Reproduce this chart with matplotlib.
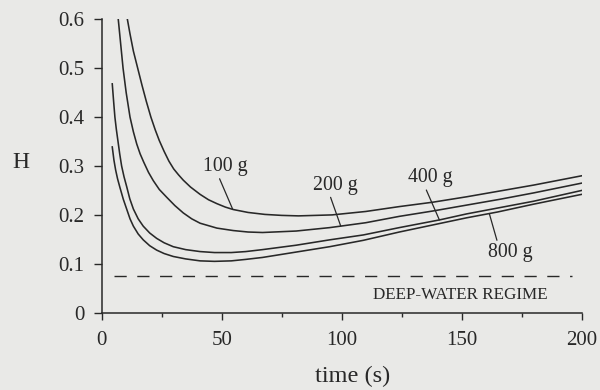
import numpy as np
import matplotlib
matplotlib.use('Agg')
import matplotlib.pyplot as plt
from matplotlib.ticker import MultipleLocator

# values: time (s) against H
t_100 = [10.7, 11.8, 13.2, 15.0, 16.8, 18.6, 20.5, 22.3, 24.0, 26.0, 28.0, 30.0, 32.0, 34.0,
         37.0, 41.0, 44.5, 48.0, 51.5, 54.8, 61.0, 68.0, 75.0, 82.0, 96.0, 110.0, 124.0,
         138.0, 152.0, 166.0, 180.0, 200.0]
H_100 = [0.600, 0.570, 0.535, 0.500, 0.465, 0.432, 0.400, 0.374, 0.352, 0.330, 0.310, 0.294,
         0.282, 0.271, 0.257, 0.242, 0.231, 0.223, 0.216, 0.211, 0.205, 0.201, 0.199, 0.198,
         0.200, 0.207, 0.217, 0.226, 0.237, 0.249, 0.261, 0.280]

t_200 = [6.9, 8.0, 8.9, 10.2, 11.8, 13.2, 14.6, 16.0, 17.5, 19.5, 21.5, 24.0, 27.1, 30.5,
         34.0, 37.5, 41.0, 48.0, 54.8, 61.0, 67.0, 81.0, 95.0, 110.0, 124.0, 138.0, 152.0,
         166.0, 180.0, 200.0]
H_200 = [0.600, 0.545, 0.500, 0.450, 0.400, 0.370, 0.345, 0.325, 0.308, 0.287, 0.270, 0.252,
         0.236, 0.219, 0.204, 0.192, 0.183, 0.173, 0.168, 0.165, 0.164, 0.167, 0.174, 0.184,
         0.197, 0.208, 0.220, 0.232, 0.245, 0.265]

t_400 = [4.4, 5.0, 5.5, 6.1, 6.8, 7.5, 8.3, 9.3, 10.4, 11.7, 13.2, 15.2, 17.3, 20.0, 22.9,
         26.0, 29.8, 35.0, 41.0, 47.0, 54.0, 60.0, 67.0, 81.0, 95.0, 109.0, 124.0, 141.0,
         152.0, 166.0, 180.0, 200.0]
H_400 = [0.468, 0.430, 0.400, 0.375, 0.350, 0.325, 0.300, 0.278, 0.258, 0.233, 0.212, 0.192,
         0.177, 0.163, 0.152, 0.143, 0.135, 0.129, 0.125, 0.123, 0.123, 0.125, 0.129, 0.138,
         0.149, 0.159, 0.174, 0.190, 0.202, 0.215, 0.228, 0.250]

t_800 = [4.4, 5.1, 5.8, 6.6, 7.6, 9.0, 10.4, 11.8, 13.2, 15.2, 17.3, 20.0, 22.9, 26.0,
         29.8, 35.0, 41.0, 47.0, 54.0, 60.0, 67.0, 81.0, 95.0, 109.0, 124.0, 152.0, 165.0,
         180.0, 200.0]
H_800 = [0.339, 0.312, 0.292, 0.274, 0.256, 0.232, 0.212, 0.192, 0.177, 0.161, 0.149, 0.137,
         0.128, 0.121, 0.115, 0.110, 0.106, 0.105, 0.106, 0.109, 0.113, 0.124, 0.135, 0.148,
         0.165, 0.194, 0.206, 0.222, 0.242]

curve_labels = ['100 g', '200 g', '400 g', '800 g']
deep_water_H = 0.075
deep_water_t = [5, 196]

plt.rcParams['font.family'] = ['Liberation Serif', 'DejaVu Serif']
ink = '#282828'
paper = '#e9e9e7'

fig = plt.figure(figsize=(6, 3.9), dpi=100, facecolor=paper)
ax = fig.add_axes([0.1695, 0.1982, 0.8, 0.7523])
ax.set_facecolor(paper)

curves = [(t_100, H_100), (t_200, H_200), (t_400, H_400), (t_800, H_800)]
for t, H in curves:
    ax.plot(t, H, color=ink, lw=1.15, solid_joinstyle='round')

ax.hlines(deep_water_H, deep_water_t[0], deep_water_t[1], color=ink, lw=1.0,
          linestyles=(0, (8.8, 7.6)))
ax.text(149.6, 0.036, 'DEEP-WATER REGIME', ha='center', va='center',
        fontsize=12.3, color=ink)

# labels with leader lines: text centre, time where the leader meets the curve
label_pos = [(51.6, 0.299), (97.2, 0.261), (136.8, 0.276), (170.4, 0.123)]
leader_at = [54.6, 99.6, 140.7, 161.5]
rel = [(0.34, 0.0), (0.38, 0.0), (0.39, 0.0), (0.21, 1.0)]
for lab, (t, H), pos, tl, rp in zip(curve_labels, curves, label_pos, leader_at, rel):
    ax.annotate(lab, xy=(tl, np.interp(tl, t, H)), xytext=pos,
                ha='center', va='center', fontsize=14.3, color=ink,
                arrowprops=dict(arrowstyle='-', color=ink, lw=0.9,
                                relpos=rp, shrinkA=0, shrinkB=0))

ax.set_xlim(0, 200)
ax.set_ylim(0, 0.6)
ax.xaxis.set_major_locator(MultipleLocator(50))
ax.xaxis.set_minor_locator(MultipleLocator(25))
ax.set_yticks(np.arange(0, 0.61, 0.1))
ax.set_yticklabels(['0', '0.1', '0.2', '0.3', '0.4', '0.5', '0.6'])

for s in ['top', 'right']:
    ax.spines[s].set_visible(False)
for s in ['left', 'bottom']:
    ax.spines[s].set_color(ink)
    ax.spines[s].set_linewidth(1.1)

ax.tick_params(axis='x', which='major', direction='out', length=5, width=1.0,
               pad=8.5, labelsize=15, colors=ink)
ax.tick_params(axis='x', which='minor', direction='out', length=3, width=1.0, colors=ink)
ax.tick_params(axis='y', which='major', direction='out', length=5.8, width=1.0,
               pad=6.5, labelsize=15, colors=ink)

ax.set_xlabel('time (s)', fontsize=17.5, color=ink, va='top')
ax.xaxis.set_label_coords(0.5225, -0.18)
ax.set_ylabel('H', fontsize=17, color=ink, rotation=0, ha='center', va='center')
ax.yaxis.set_label_coords(-0.168, 0.512)

fig.savefig('out.png', dpi=100, facecolor=paper)
